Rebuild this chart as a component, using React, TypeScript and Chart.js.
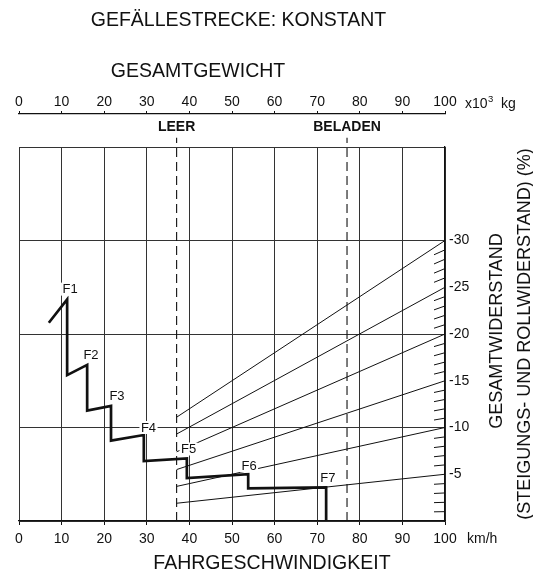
import React, { useEffect, useRef } from 'react';
import { Chart, registerables } from 'chart.js';

Chart.register(...registerables);

// ---------- data ----------
const speedTicks = [0, 10, 20, 30, 40, 50, 60, 70, 80, 90, 100];
const weightTicks = [0, 10, 20, 30, 40, 50, 60, 70, 80, 90, 100];
const resistanceTicks = [-40, -35, -30, -25, -20, -15, -10, -5, 0];
const resistanceLabelled = [-30, -25, -20, -15, -10, -5];

// gear curve (speed km/h, total resistance %)
const gearSpeed = [7.0, 11.3, 11.3, 16.0, 16.0, 21.6, 21.6, 29.3, 29.3, 39.4, 39.4, 53.8, 53.8, 72.1, 72.1];
const gearResistance = [-21.2, -23.7, -15.6, -16.7, -11.8, -12.3, -8.6, -9.2, -6.4, -6.7, -4.6, -5.0, -3.5, -3.6, 0];

const gearNames = ['F1', 'F2', 'F3', 'F4', 'F5', 'F6', 'F7'];
const gearLabelSpeed = [12.0, 16.9, 23.0, 30.4, 39.8, 54.0, 72.5];
const gearLabelResistance = [-24.8, -17.8, -13.4, -10.0, -7.7, -5.9, -4.6];

// grade lines (gross weight 10^3 kg -> resistance %)
const gradeLevels = [-30, -25, -20, -15, -10, -5];
const gradeStartValues = [-11.1, -9.3, -7.4, -5.5, -3.7, -1.9];
const gradeStartWeight = 37;
const gradeEndWeight = 100;

// weight markers
const markerWeights = [37, 77];
const markerNames = ['LEER', 'BELADEN'];
const markerTop = -41;

const FONT = '"Liberation Sans", Arial, Helvetica, sans-serif';
const INK = '#111111';
const GRID = '#333333';

const annotPlugin = {
  id: 'annot',
  afterDatasetsDraw(chart: any) {
    const { ctx, chartArea } = chart;
    const xs = chart.scales.x;
    const ys = chart.scales.y;
    ctx.save();
    // minor hatch ticks on the resistance axis
    ctx.strokeStyle = INK;
    ctx.lineWidth = 1;
    for (let v = 1; v < 30; v++) {
      if (v % 5 === 0) continue;
      const py = ys.getPixelForValue(-v);
      ctx.beginPath();
      ctx.moveTo(chartArea.right, py);
      ctx.lineTo(chartArea.right - 11, py + v * 0.17);
      ctx.stroke();
    }
    // gear labels
    ctx.font = `13px ${FONT}`;
    ctx.textAlign = 'center';
    ctx.textBaseline = 'middle';
    gearNames.forEach((n, i) => {
      const px = xs.getPixelForValue(gearLabelSpeed[i]);
      const py = ys.getPixelForValue(gearLabelResistance[i]);
      const w = ctx.measureText(n).width;
      ctx.fillStyle = '#fff';
      ctx.fillRect(px - w / 2 - 1.5, py - 6.5, w + 3, 13);
      ctx.fillStyle = INK;
      ctx.fillText(n, px, py + 0.5);
    });
    ctx.restore();
  },
  afterDraw(chart: any) {
    const { ctx } = chart;
    ctx.save();
    ctx.fillStyle = INK;
    ctx.textBaseline = 'middle';
    ctx.textAlign = 'center';
    ctx.font = `19.5px ${FONT}`;
    ctx.fillText('GEFÄLLESTRECKE: KONSTANT', 238.5, 21);
    ctx.fillText('GESAMTGEWICHT', 198, 72);
    ctx.fillText('FAHRGESCHWINDIGKEIT', 272, 564);

    ctx.textAlign = 'left';
    ctx.font = `14px ${FONT}`;
    ctx.fillText('km/h', 467, 539.5);
    ctx.textBaseline = 'alphabetic';
    let x = 465;
    ctx.fillText('x10', x, 108);
    x += ctx.measureText('x10').width;
    ctx.font = `9.5px ${FONT}`;
    ctx.fillText('3', x + 0.5, 102);
    ctx.font = `14px ${FONT}`;
    ctx.fillText('kg', 501, 108);

    ctx.font = `18px ${FONT}`;
    ctx.textAlign = 'center';
    ctx.textBaseline = 'middle';
    ctx.save();
    ctx.translate(497.5, 331);
    ctx.rotate(-Math.PI / 2);
    ctx.fillText('GESAMTWIDERSTAND', 0, 0);
    ctx.restore();
    ctx.save();
    ctx.translate(525.5, 334);
    ctx.rotate(-Math.PI / 2);
    ctx.fillText('(STEIGUNGS- UND ROLLWIDERSTAND) (%)', 0, 0);
    ctx.restore();
    ctx.restore();
  },
};

export default function App() {
  const ref = useRef<HTMLCanvasElement>(null);
  useEffect(() => {
    const canvas = ref.current;
    if (!canvas) return;

    const datasets: any[] = [];
    datasets.push({
      label: 'Gänge',
      data: gearSpeed.map((s, i) => ({ x: s, y: gearResistance[i] })),
      xAxisID: 'x',
      yAxisID: 'y',
      showLine: true,
      borderColor: INK,
      borderWidth: 2.7,
      borderJoinStyle: 'miter',
      pointRadius: 0,
      tension: 0,
      order: 0,
    });
    gradeLevels.forEach((lvl, i) => {
      datasets.push({
        label: `Steigung ${lvl}`,
        data: [
          { x: gradeStartWeight, y: gradeStartValues[i] },
          { x: gradeEndWeight, y: lvl },
        ],
        xAxisID: 'x2',
        yAxisID: 'y',
        showLine: true,
        borderColor: INK,
        borderWidth: 1,
        pointRadius: 0,
        order: 2,
      });
    });
    markerWeights.forEach((w, i) => {
      datasets.push({
        label: markerNames[i],
        data: [
          { x: w, y: 0 },
          { x: w, y: markerTop },
        ],
        xAxisID: 'x2',
        yAxisID: 'y',
        showLine: true,
        borderColor: INK,
        borderWidth: 1.1,
        borderDash: [9, 5],
        pointRadius: 0,
        clip: false,
        order: 3,
      });
    });

    const tickFont = { family: FONT, size: 14 };

    const chart = new Chart(canvas, {
      type: 'scatter',
      data: { datasets },
      options: {
        responsive: false,
        animation: false,
        devicePixelRatio: 1,
        events: [],
        layout: { padding: { top: 80, left: 19, right: 0, bottom: 0 } },
        plugins: {
          legend: { display: false },
          tooltip: { enabled: false },
          title: { display: false },
        },
        scales: {
          x: {
            type: 'linear',
            position: 'bottom',
            min: 0,
            max: 100,
            afterBuildTicks: (s: any) => {
              s.ticks = speedTicks.map((v) => ({ value: v }));
            },
            ticks: {
              autoSkip: false,
              maxRotation: 0,
              padding: 6,
              font: tickFont,
              color: INK,
              callback: (v: any) => String(v),
            },
            grid: { color: GRID, lineWidth: 1, drawTicks: true, tickLength: 4, tickColor: INK },
            border: { display: true, color: INK, width: 1.3 },
            afterFit: (s: any) => {
              s.height = 54;
              s.paddingLeft = 0;
              s.paddingRight = 0;
            },
          },
          x2: {
            type: 'linear',
            axis: 'x',
            position: 'top',
            weight: 2,
            min: 0,
            max: 100,
            afterBuildTicks: (s: any) => {
              s.ticks = weightTicks.map((v) => ({ value: v }));
            },
            ticks: {
              autoSkip: false,
              maxRotation: 0,
              padding: 0,
              font: tickFont,
              color: INK,
              callback: (v: any) => String(v),
            },
            grid: { display: true, drawOnChartArea: false, drawTicks: true, tickLength: 3, color: INK },
            border: { display: true, color: INK, width: 1.3 },
            afterFit: (s: any) => {
              s.height = 34;
              s.paddingLeft = 0;
              s.paddingRight = 0;
            },
          },
          x3: {
            type: 'linear',
            axis: 'x',
            position: 'top',
            weight: 1,
            min: 0,
            max: 100,
            afterBuildTicks: (s: any) => {
              s.ticks = markerWeights.map((v) => ({ value: v }));
            },
            ticks: {
              autoSkip: false,
              maxRotation: 0,
              padding: 11,
              font: { family: FONT, size: 14, weight: 'bold' },
              color: INK,
              callback: (v: any) => {
                const i = markerWeights.indexOf(Number(v));
                return i >= 0 ? markerNames[i] : '';
              },
            },
            grid: { display: false, drawTicks: false },
            border: { display: false },
            afterFit: (s: any) => {
              s.height = 33;
              s.paddingLeft = 0;
              s.paddingRight = 0;
            },
          },
          y: {
            type: 'linear',
            position: 'right',
            min: -40,
            max: 0,
            reverse: true,
            afterBuildTicks: (s: any) => {
              s.ticks = resistanceTicks.map((v) => ({ value: v }));
            },
            ticks: {
              padding: 4,
              font: tickFont,
              color: INK,
              callback: (v: any) => (resistanceLabelled.includes(Number(v)) ? String(v) : ''),
            },
            grid: {
              drawTicks: false,
              color: (c: any) => (c.tick && c.tick.value % 10 === 0 ? GRID : 'rgba(0,0,0,0)'),
            },
            border: { display: true, color: INK, width: 1.3 },
            afterFit: (s: any) => {
              s.width = 88;
              s.paddingTop = 0;
              s.paddingBottom = 0;
            },
          },
        },
      } as any,
      plugins: [annotPlugin],
    });
    return () => chart.destroy();
  }, []);

  return (
    <div style={{ position: 'fixed', left: 0, top: 0, width: 533, height: 575, background: '#fff' }}>
      <canvas ref={ref} width={533} height={575} style={{ display: 'block', width: 533, height: 575 }} />
    </div>
  );
}
